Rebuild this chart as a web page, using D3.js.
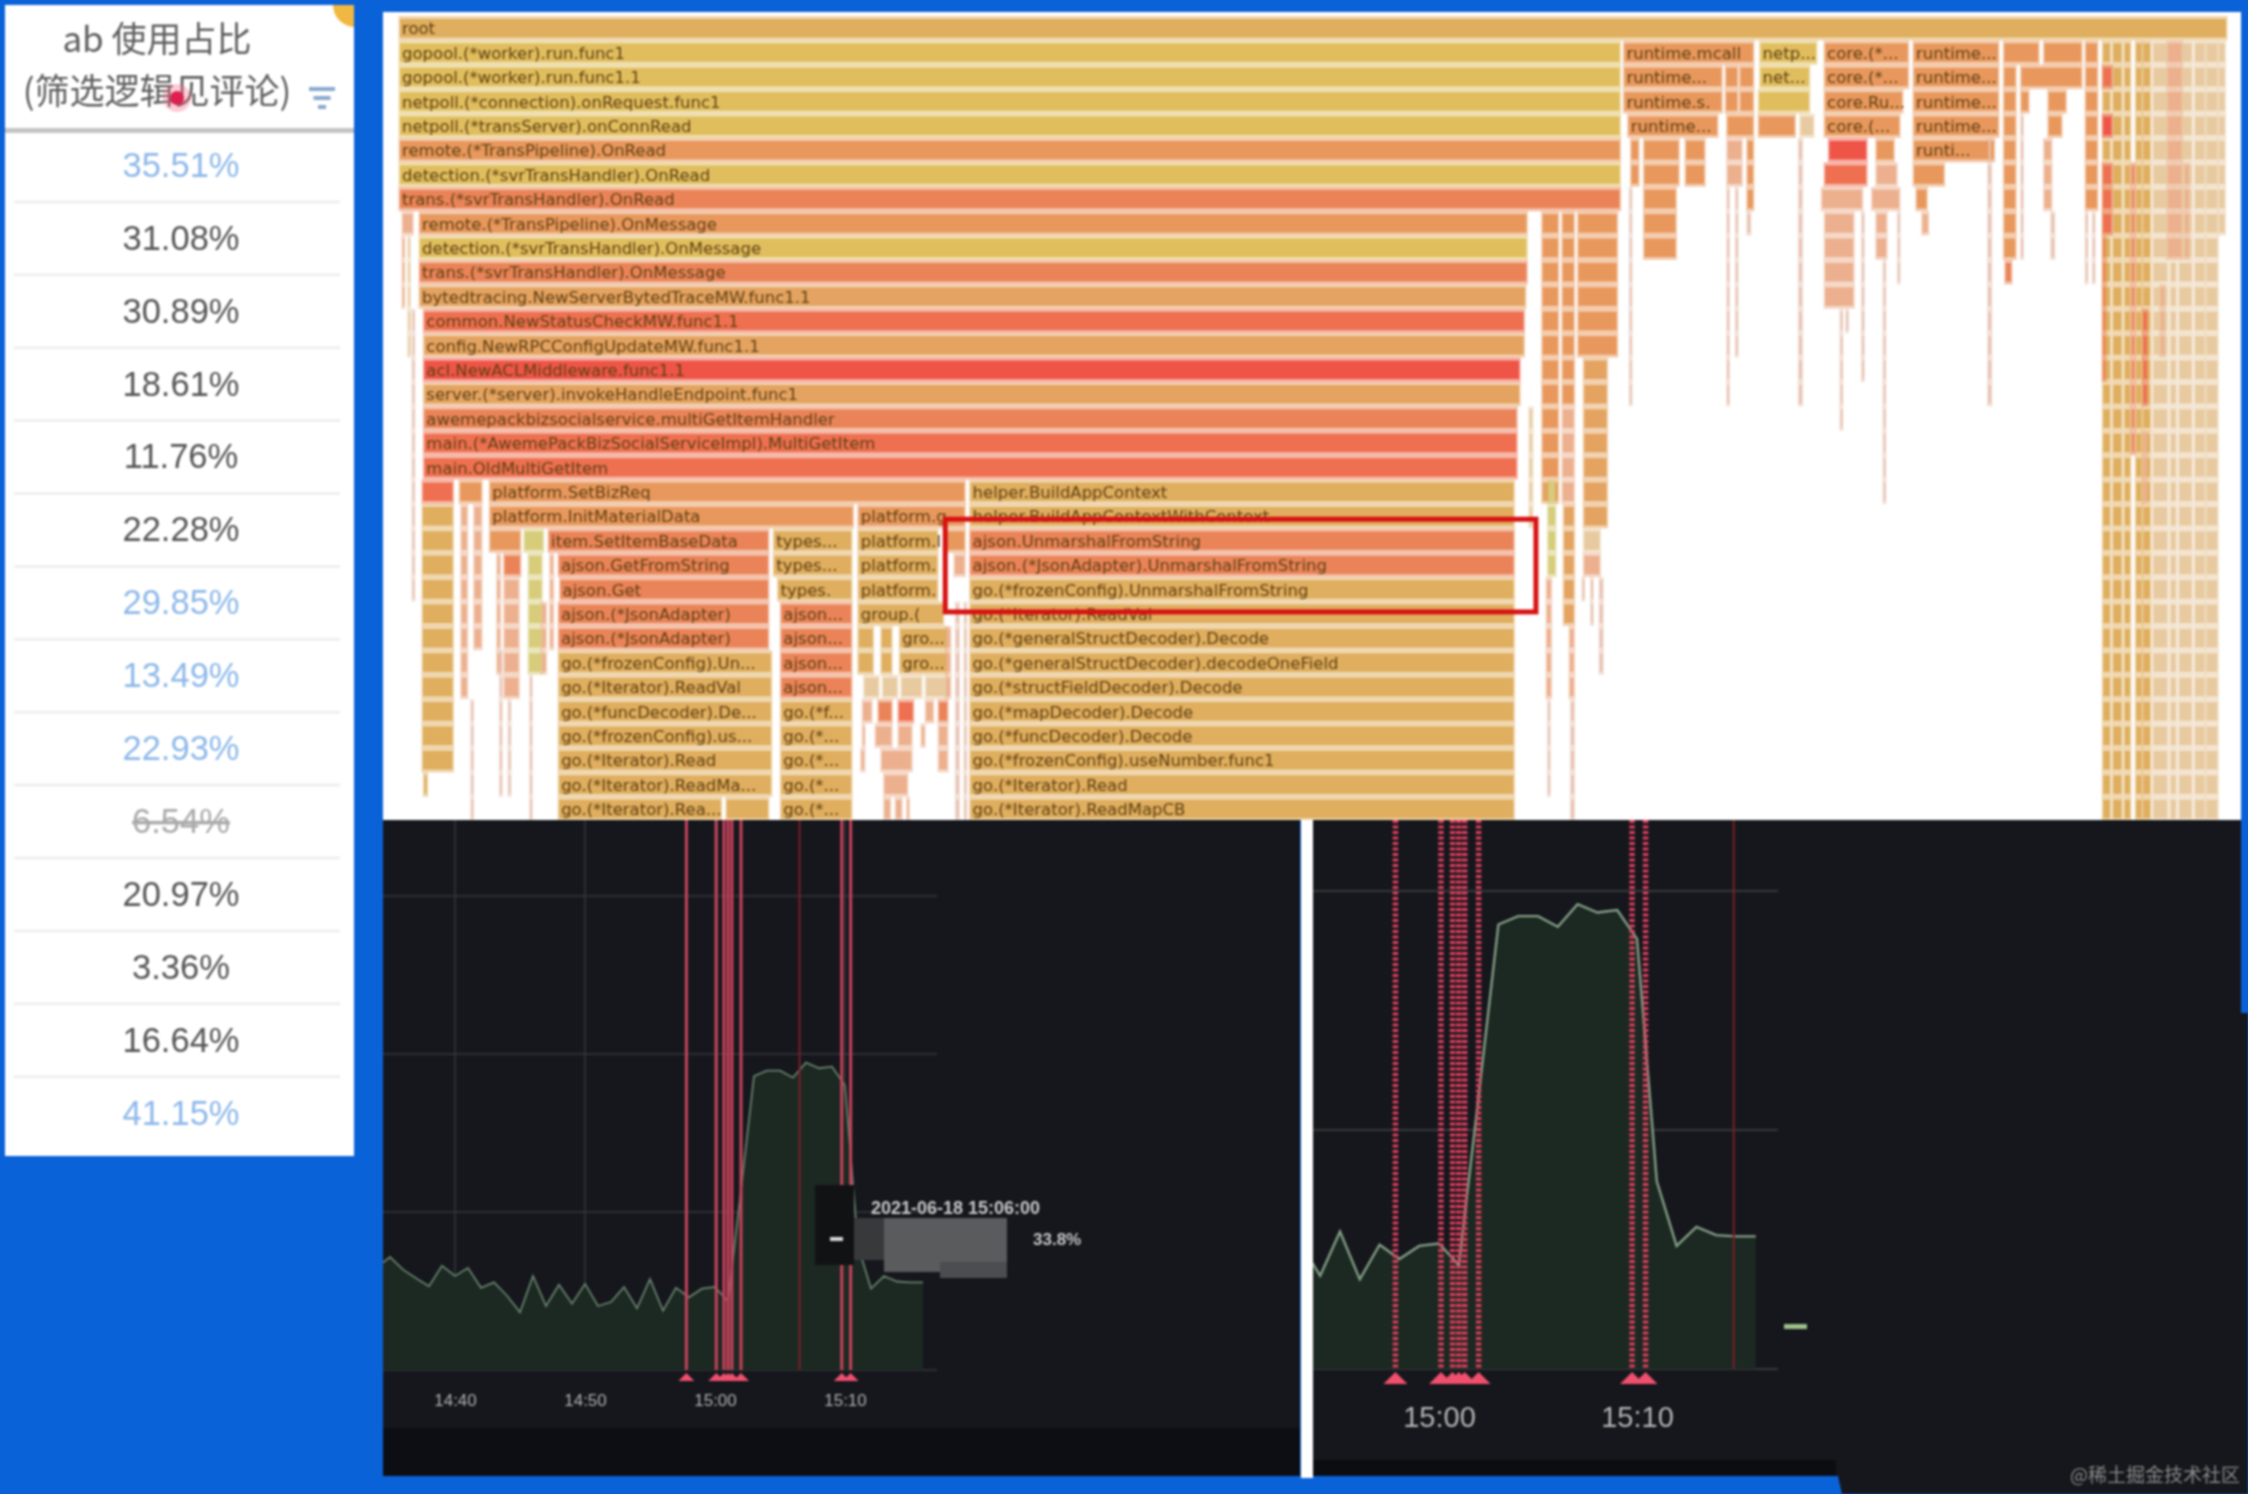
<!DOCTYPE html>
<html>
<head>
<meta charset="utf-8">
<script src="https://cdn.jsdelivr.net/npm/d3@7/dist/d3.min.js"></script>
<style>
  html, body { margin: 0; padding: 0; background: #0a62d8; overflow: hidden; }
  svg { display: block; filter: blur(0.8px); }
</style>
</head>
<body>
<script>
// ---- table on the left
const headerLines = ["ab 使用占比", "(筛选逻辑见评论)"];
const usageValues = ["35.51%", "31.08%", "30.89%", "18.61%", "11.76%", "22.28%", "29.85%",
                     "13.49%", "22.93%", "6.54%", "20.97%", "3.36%", "16.64%", "41.15%"];
const usageState = ["link", "", "", "", "", "", "link", "link", "link", "off", "", "", "", "link"];

// ---- flame graph: [depth, start sample, end sample, kind, label]
const flameKinds = ["a", "y", "g", "o", "s", "d", "r", "c", "p", "l", "t"];
const flameColors = ["#dfae5e", "#e0be5e", "#d6cc7a", "#e8985c", "#ea8458", "#ee7050", "#ef5547",
                     "#e4a360", "#ecb08e", "#e8caa0", "#e6bfae"];
const frames = [
  [0, 0, 1275, "a", "root"],
  [1, 0, 852, "y", "gopool.(*worker).run.func1"],
  [2, 0, 852, "y", "gopool.(*worker).run.func1.1"],
  [3, 0, 852, "y", "netpoll.(*connection).onRequest.func1"],
  [4, 0, 852, "y", "netpoll.(*transServer).onConnRead"],
  [5, 0, 852, "o", "remote.(*TransPipeline).OnRead"],
  [6, 0, 852, "y", "detection.(*svrTransHandler).OnRead"],
  [7, 0, 852, "s", "trans.(*svrTransHandler).OnRead"],
  [8, 14, 787, "o", "remote.(*TransPipeline).OnMessage"],
  [9, 14, 787, "y", "detection.(*svrTransHandler).OnMessage"],
  [10, 14, 787, "s", "trans.(*svrTransHandler).OnMessage"],
  [11, 14, 786, "c", "bytedtracing.NewServerBytedTraceMW.func1.1"],
  [12, 17, 785, "d", "common.NewStatusCheckMW.func1.1"],
  [13, 17, 785, "c", "config.NewRPCConfigUpdateMW.func1.1"],
  [14, 17, 782, "r", "acl.NewACLMiddleware.func1.1"],
  [15, 17, 782, "c", "server.(*server).invokeHandleEndpoint.func1"],
  [16, 17, 780, "s", "awemepackbizsocialservice.multiGetItemHandler"],
  [17, 17, 780, "d", "main.(*AwemePackBizSocialServiceImpl).MultiGetItem"],
  [18, 17, 780, "d", "main.OldMultiGetItem"],
  [19, 16, 38, "d"], [19, 42, 58, "o"],
  [19, 63, 395, "o", "platform.SetBizReq"],
  [19, 398, 778, "a", "helper.BuildAppContext"],
  [20, 63, 317, "o", "platform.InitMaterialData"],
  [20, 320, 395, "o", "platform.g"],
  [20, 398, 778, "a", "helper.BuildAppContextWithContext"],
  [21, 63, 85, "o"], [21, 87, 101, "g"],
  [21, 104, 258, "s", "item.SetItemBaseData"],
  [21, 261, 316, "a", "types..."],
  [21, 320, 376, "a", "platform.I"], [21, 380, 395, "o"],
  [21, 398, 778, "s", "ajson.UnmarshalFromString"],
  [22, 73, 85, "s"],
  [22, 111, 258, "s", "ajson.GetFromString"],
  [22, 261, 316, "a", "types..."],
  [22, 320, 376, "a", "platform."], [22, 387, 395, "p"],
  [22, 398, 778, "s", "ajson.(*JsonAdapter).UnmarshalFromString"],
  [23, 112, 258, "s", "ajson.Get"],
  [23, 264, 316, "a", "types."],
  [23, 320, 376, "a", "platform."],
  [23, 398, 778, "a", "go.(*frozenConfig).UnmarshalFromString"],
  [24, 111, 258, "s", "ajson.(*JsonAdapter)"],
  [24, 266, 316, "s", "ajson..."],
  [24, 320, 380, "a", "group.("],
  [24, 398, 778, "a", "go.(*Iterator).ReadVal"],
  [25, 111, 258, "s", "ajson.(*JsonAdapter)"],
  [25, 266, 316, "s", "ajson..."],
  [25, 320, 331, "a"], [25, 336, 344, "a"], [25, 349, 383, "a", "gro..."],
  [25, 398, 778, "a", "go.(*generalStructDecoder).Decode"],
  [26, 111, 260, "a", "go.(*frozenConfig).Un..."],
  [26, 266, 316, "s", "ajson..."],
  [26, 320, 331, "a"], [26, 336, 344, "a"], [26, 349, 383, "a", "gro..."],
  [26, 398, 778, "a", "go.(*generalStructDecoder).decodeOneField"],
  [27, 111, 260, "a", "go.(*Iterator).ReadVal"],
  [27, 266, 316, "s", "ajson..."],
  [27, 324, 335, "l"], [27, 337, 348, "l"], [27, 350, 365, "l"], [27, 367, 383, "l"],
  [27, 398, 778, "a", "go.(*structFieldDecoder).Decode"],
  [28, 111, 260, "a", "go.(*funcDecoder).De..."],
  [28, 266, 316, "a", "go.(*f..."],
  [28, 323, 330, "p"], [28, 334, 344, "s"], [28, 348, 359, "d"], [28, 367, 373, "p"], [28, 376, 383, "s"],
  [28, 398, 778, "a", "go.(*mapDecoder).Decode"],
  [29, 111, 260, "a", "go.(*frozenConfig).us..."],
  [29, 266, 316, "a", "go.(*..."],
  [29, 323, 325, "p"], [29, 332, 344, "p"], [29, 348, 358, "p"], [29, 364, 367, "p"], [29, 376, 383, "p"],
  [29, 398, 778, "a", "go.(*funcDecoder).Decode"],
  [30, 111, 260, "a", "go.(*Iterator).Read"],
  [30, 266, 316, "a", "go.(*..."],
  [30, 322, 325, "p"], [30, 336, 358, "p"], [30, 376, 383, "p"],
  [30, 398, 778, "a", "go.(*frozenConfig).useNumber.func1"],
  [31, 111, 260, "a", "go.(*Iterator).ReadMa..."],
  [31, 266, 316, "a", "go.(*..."],
  [31, 338, 355, "p"],
  [31, 398, 778, "a", "go.(*Iterator).Read"],
  [32, 111, 225, "a", "go.(*Iterator).Rea..."], [32, 228, 258, "a"],
  [32, 266, 316, "a", "go.(*..."],
  [32, 338, 343, "p"], [32, 346, 351, "p"], [32, 354, 356, "p"],
  [32, 398, 778, "a", "go.(*Iterator).ReadMapCB"],
  // right of the main stack
  [1, 854, 945, "o", "runtime.mcall"],
  [1, 949, 989, "y", "netp..."],
  [1, 994, 1053, "o", "core.(*..."],
  [1, 1056, 1116, "o", "runtime..."],
  [1, 1119, 1144, "o"], [1, 1147, 1174, "o"],
  [2, 854, 923, "o", "runtime..."],
  [2, 925, 934, "o"], [2, 935, 945, "o"],
  [2, 949, 984, "y", "net..."],
  [2, 994, 1053, "o", "core.(*..."],
  [2, 1056, 1116, "o", "runtime..."],
  [2, 1131, 1174, "o"],
  [3, 854, 923, "o", "runtime.s."],
  [3, 925, 934, "o"], [3, 935, 945, "o"],
  [3, 948, 984, "y"],
  [3, 994, 1049, "o", "core.Ru..."],
  [3, 1056, 1116, "o", "runtime..."],
  [3, 1131, 1137, "o"], [3, 1150, 1163, "o"],
  [4, 857, 920, "o", "runtime..."],
  [4, 926, 945, "o"], [4, 948, 974, "o"], [4, 977, 987, "l"],
  [4, 994, 1047, "o", "core.(..."],
  [4, 1056, 1116, "o", "runtime..."],
  [4, 1150, 1160, "o"],
  [5, 997, 1024, "r"], [5, 1030, 1043, "o"],
  [5, 1056, 1113, "o", "runti..."],
  [6, 994, 1024, "d"], [6, 1030, 1045, "p"],
  [6, 1056, 1078, "o"],
  [7, 992, 1021, "p"], [7, 1027, 1047, "p"],
  [7, 1058, 1066, "o"]
];
// towers of small unnamed frames: [first depth, last depth, start, end, kind]
const towers = [
  [8, 8, 2, 10, "p"], [9, 11, 2, 4, "p"], [9, 13, 6, 8, "l"], [12, 23, 9, 11, "t"],
  [20, 30, 16, 38, "a"], [31, 31, 17, 20, "a"], [20, 27, 43, 48, "p"], [20, 25, 52, 58, "p"],
  [28, 32, 50, 52, "t"], [22, 26, 68, 71, "p"], [23, 27, 73, 84, "p"], [26, 31, 70, 72, "t"],
  [28, 31, 76, 78, "t"], [22, 26, 90, 100, "g"], [27, 32, 91, 93, "t"], [24, 26, 99, 103, "p"],
  [22, 25, 105, 108, "p"],
  [24, 32, 388, 391, "t"], [25, 27, 381, 385, "p"], [24, 32, 394, 396, "t"],
  // columns just right of the main stack
  [8, 18, 797, 809, "o"], [19, 19, 797, 809, "c"], [19, 22, 801, 807, "g"], [23, 27, 800, 804, "p"],
  [28, 31, 801, 803, "t"], [8, 15, 811, 820, "o"], [16, 19, 811, 820, "p"], [20, 24, 812, 820, "c"],
  [25, 27, 816, 820, "p"], [28, 32, 817, 820, "t"], [8, 13, 822, 850, "o"], [14, 20, 826, 843, "c"],
  [21, 21, 826, 838, "l"], [22, 22, 826, 838, "p"], [23, 23, 825, 827, "t"], [23, 24, 831, 833, "t"],
  [23, 26, 837, 840, "t"], [16, 20, 788, 791, "l"],
  // thin stacks under runtime and core
  [5, 6, 859, 865, "o"], [5, 6, 868, 893, "o"], [7, 9, 868, 891, "o"], [5, 6, 897, 911, "o"],
  [7, 15, 858, 860, "t"], [5, 6, 926, 937, "p"], [7, 15, 926, 928, "t"], [7, 13, 932, 934, "t"],
  [5, 7, 940, 945, "o"], [8, 8, 940, 943, "t"], [5, 15, 976, 979, "t"], [8, 11, 994, 1015, "p"],
  [12, 16, 1005, 1007, "t"], [12, 12, 1009, 1011, "t"], [8, 14, 1020, 1022, "t"], [8, 9, 1030, 1038, "p"],
  [10, 19, 1035, 1037, "t"], [8, 10, 1045, 1047, "t"], [8, 8, 1062, 1067, "p"], [5, 15, 1108, 1111, "t"],
  [2, 9, 1119, 1128, "o"], [10, 10, 1120, 1125, "s"], [4, 9, 1131, 1133, "t"], [5, 7, 1147, 1153, "p"],
  [8, 9, 1152, 1155, "t"], [1, 7, 1176, 1185, "o"], [8, 10, 1176, 1178, "t"], [8, 10, 1181, 1183, "t"],
  // tall block on the far right
  [1, 32, 1188, 1194, "a"], [1, 32, 1195, 1202, "a"], [1, 32, 1203, 1208, "a"], [1, 32, 1211, 1216, "a"],
  [1, 32, 1216, 1222, "a"], [1, 32, 1223, 1234, "l"], [1, 32, 1235, 1240, "l"], [1, 32, 1241, 1251, "l"],
  [1, 32, 1252, 1260, "l"], [1, 32, 1260, 1269, "l"], [1, 8, 1269, 1274, "l"],
  [2, 2, 1188, 1195, "d"], [4, 4, 1188, 1195, "r"], [6, 8, 1188, 1195, "d"], [9, 14, 1188, 1191, "s"],
  [6, 17, 1208, 1211, "s"], [12, 15, 1216, 1220, "d"], [1, 9, 1233, 1244, "p"], [6, 9, 1245, 1249, "p"],
  [11, 13, 1228, 1232, "p"], [17, 19, 1216, 1220, "p"]
];

// ---- time series shared by both lower charts (minutes after 14:40, percent)
const minutes = [-6, -5, -4, -3, -2, -1, 0, 1, 2, 3, 4, 5, 6, 7, 8, 9, 10, 11, 12, 13, 14, 15, 16, 17, 18,
                 19, 20, 21, 22, 23, 24, 25, 26, 27, 28, 29, 30, 31, 32, 33, 34, 35, 36];
const percent = [13.0, 14.3, 12.7, 11.6, 10.6, 13.2, 11.9, 12.9, 10.4, 11.1, 9.4, 7.3, 11.9, 8.1, 10.8,
                 8.4, 10.9, 8.1, 8.6, 10.5, 7.8, 11.5, 7.5, 10.4, 9.2, 10.3, 10.5, 8.7, 22.8, 37.2,
                 37.9, 37.9, 37.0, 38.9, 38.2, 38.4, 36.0, 15.7, 10.3, 11.9, 11.2, 11.1, 11.1];
const gridValues = [0, 20, 40, 60];
const sharedEvents = [17.8, 20.1, 20.7, 21.0, 21.3, 22, 29.75, 30.45];
const tooltipTitle = "2021-06-18 15:06:00";
const tooltipValue = "33.8%";

const width = 2248;
const height = 1494;
const svg = d3.select("body").append("svg").attr("width", width).attr("height", height);
const defs = svg.append("defs");
const sansFont = "'Liberation Sans', Arial, sans-serif";
const cjkFont = "'Noto Sans CJK SC', sans-serif";

// background panels
svg.append("rect").attr("width", width).attr("height", height).attr("fill", "#0a62d8");
svg.append("rect").attr("x", 383).attr("y", 12).attr("width", 1858).attr("height", 808).attr("fill", "#fff");
svg.append("rect").attr("x", 383).attr("y", 820).attr("width", 917).attr("height", 656).attr("fill", "#15171c");
svg.append("rect").attr("x", 383).attr("y", 1428).attr("width", 917).attr("height", 48).attr("fill", "#0c0e13");
svg.append("path").attr("d", "M1313,820H2248V1494H1842L1838,1476H1313Z").attr("fill", "#15171c");
svg.append("rect").attr("x", 1313).attr("y", 1460).attr("width", 523).attr("height", 16).attr("fill", "#0b0d11");
svg.append("rect").attr("x", 2241).attr("y", 0).attr("width", 7).attr("height", 1013).attr("fill", "#0a62d8");
svg.append("rect").attr("x", 1301).attr("y", 820).attr("width", 12).attr("height", 658).attr("fill", "#fff");

// ---- table
const table = svg.append("g");
table.append("rect").attr("x", 5).attr("y", 5).attr("width", 349).attr("height", 1151).attr("fill", "#fff");
defs.append("clipPath").attr("id", "tableClip").append("rect")
    .attr("x", 5).attr("y", 5).attr("width", 349).attr("height", 1151);
table.append("circle").attr("cx", 355).attr("cy", 5).attr("r", 22).attr("fill", "#f0b840")
     .attr("clip-path", "url(#tableClip)");
table.selectAll(".head").data(headerLines).enter().append("text")
     .attr("class", "head")
     .attr("x", 157)
     .attr("y", (d, i) => 39 + 52 * i)
     .attr("dy", "0.36em")
     .attr("text-anchor", "middle")
     .attr("font-family", cjkFont)
     .attr("font-size", 35)
     .attr("fill", "#5e5e5e")
     .text(d => d);
table.append("rect").attr("x", 5).attr("y", 128).attr("width", 349).attr("height", 5).attr("fill", "#c4c4c4");
table.selectAll(".filterBar").data([26, 17, 8]).enter().append("rect")
     .attr("class", "filterBar")
     .attr("x", d => 322 - d / 2)
     .attr("y", (d, i) => 87 + i * 9)
     .attr("width", d => d)
     .attr("height", 4)
     .attr("fill", "#8aa8d0");
table.append("circle").attr("cx", 177).attr("cy", 98).attr("r", 14).attr("fill", "#ff6a88").attr("opacity", 0.35);
table.append("circle").attr("cx", 177).attr("cy", 98).attr("r", 7).attr("fill", "#dd2050");

const rowScale = d3.scaleBand().domain(d3.range(usageValues.length)).range([128, 128 + 72.9 * usageValues.length]);
table.selectAll(".rowLine").data(usageValues.slice(0, -1)).enter().append("line")
     .attr("class", "rowLine")
     .attr("x1", 14).attr("x2", 340)
     .attr("y1", (d, i) => rowScale(i) + rowScale.bandwidth() + 1)
     .attr("y2", (d, i) => rowScale(i) + rowScale.bandwidth() + 1)
     .attr("stroke", "#efefef").attr("stroke-width", 3);
table.selectAll(".rowValue").data(usageValues).enter().append("text")
     .attr("class", "rowValue")
     .attr("x", 181)
     .attr("y", (d, i) => rowScale(i) + rowScale.bandwidth() / 2)
     .attr("dy", "0.36em")
     .attr("text-anchor", "middle")
     .attr("font-family", sansFont)
     .attr("font-size", 34.5)
     .attr("fill", (d, i) => usageState[i] === "link" ? "#8db8ea" : usageState[i] === "off" ? "#aaaaaa" : "#555555")
     .style("text-decoration", (d, i) => usageState[i] === "off" ? "line-through" : null)
     .text(d => d);

// ---- flame graph
const flameX = d3.scaleLinear().domain([0, 1275]).range([399, 2227]);
const flameY = d3.scaleLinear().domain([0, 33]).range([19, 19 + 24.4 * 33]);
const flameColor = d3.scaleOrdinal().domain(flameKinds).range(flameColors);
const allFrames = frames.map(f => ({ depth: f[0], start: f[1], end: f[2], kind: f[3], label: f[4] }));
towers.forEach(t => {
  d3.range(t[0], t[1] + 1).forEach(depth => {
    allFrames.push({ depth: depth, start: t[2], end: t[3], kind: t[4] });
  });
});

defs.append("clipPath").attr("id", "flameClip").append("rect")
    .attr("x", 383).attr("y", 12).attr("width", 1858).attr("height", 808);
const flame = svg.append("g").attr("clip-path", "url(#flameClip)");
// lighter halo around each frame, then the frame itself
flame.selectAll(".halo").data(allFrames).enter().append("rect")
     .attr("class", "halo")
     .attr("x", d => flameX(d.start) - 0.5)
     .attr("y", d => flameY(d.depth) - 3)
     .attr("width", d => flameX(d.end) - flameX(d.start) + 1)
     .attr("height", 24.4)
     .attr("fill", d => flameColor(d.kind))
     .attr("opacity", 0.5);
flame.selectAll(".frame").data(allFrames).enter().append("rect")
     .attr("class", "frame")
     .attr("x", d => flameX(d.start) + 1)
     .attr("y", d => flameY(d.depth))
     .attr("width", d => Math.max(1.5, flameX(d.end) - flameX(d.start) - 2))
     .attr("height", 18.4)
     .attr("fill", d => flameColor(d.kind));
flame.selectAll(".frameLabel").data(allFrames.filter(d => d.label)).enter().append("text")
     .attr("class", "frameLabel")
     .attr("x", d => flameX(d.start) + 3)
     .attr("y", d => flameY(d.depth) + 9.5)
     .attr("dy", "0.36em")
     .attr("font-family", "'DejaVu Sans', sans-serif")
     .attr("font-size", 16.5)
     .attr("fill", "#5f3f12")
     .text(d => d.label);
// red marker around the three UnmarshalFromString rows
flame.append("rect")
     .attr("x", flameX(381))
     .attr("y", flameY(20.5))
     .attr("width", flameX(793) - flameX(381))
     .attr("height", flameY(24.3) - flameY(20.5))
     .attr("fill", "none")
     .attr("stroke", "#d81212")
     .attr("stroke-width", 5);

// ---- lower charts
function drawChart(opts) {
  const x = d3.scaleTime()
    .domain([new Date(2021, 5, 18, 14, 40), new Date(2021, 5, 18, 15, 10)])
    .range(opts.xRange);
  const y = d3.scaleLinear().domain([0, 40]).range(opts.yRange);
  const at = m => new Date(2021, 5, 18, 14, 40 + Math.floor(m), (m - Math.floor(m)) * 60);
  const id = "clip" + opts.name;
  defs.append("clipPath").attr("id", id).append("rect")
      .attr("x", opts.left).attr("y", 820).attr("width", opts.gridEnd + 30 - opts.left).attr("height", 640);
  const g = svg.append("g").attr("clip-path", "url(#" + id + ")");

  g.selectAll(".hGrid").data(opts.grid).enter().append("line")
   .attr("x1", opts.left).attr("x2", opts.gridEnd)
   .attr("y1", d => y(d)).attr("y2", d => y(d))
   .attr("stroke", "#36373b").attr("stroke-width", opts.gridWidth);
  g.selectAll(".vGrid").data(opts.vGrid).enter().append("line")
   .attr("x1", d => x(at(d))).attr("x2", d => x(at(d)))
   .attr("y1", 820).attr("y2", y(0))
   .attr("stroke", "#36373b").attr("stroke-width", 1.5);

  const points = minutes.map((m, i) => ({ t: at(m), v: percent[i] })).slice(opts.firstPoint);
  g.append("path").datum(points)
   .attr("fill", "#1c2822")
   .attr("d", d3.area().x(d => x(d.t)).y0(y(0)).y1(d => y(d.v)));
  g.append("path").datum(points)
   .attr("fill", "none")
   .attr("stroke", opts.lineColor)
   .attr("stroke-width", opts.lineWidth)
   .attr("d", d3.line().x(d => x(d.t)).y(d => y(d.v)));

  g.selectAll(".event").data(sharedEvents).enter().append("line")
   .attr("x1", d => x(at(d))).attr("x2", d => x(at(d)))
   .attr("y1", 820).attr("y2", y(0))
   .attr("stroke", opts.eventColor)
   .attr("stroke-width", opts.eventWidth)
   .attr("stroke-dasharray", opts.eventDash);
  g.selectAll(".extra").data(opts.extraEvents).enter().append("line")
   .attr("x1", d => x(at(d))).attr("x2", d => x(at(d)))
   .attr("y1", 820).attr("y2", y(0))
   .attr("stroke", "#7a1f28").attr("stroke-width", 2);
  g.selectAll(".flag").data(sharedEvents).enter().append("path")
   .attr("d", d => {
     const px = x(at(d));
     return "M" + (px - opts.flag) + "," + (y(0) + opts.flag + 3) + "L" + px + "," + (y(0) + 3)
          + "L" + (px + opts.flag) + "," + (y(0) + opts.flag + 3) + "Z";
   })
   .attr("fill", "#f0506e");

  const axis = d3.axisBottom(x)
    .tickValues(opts.ticks.map(at))
    .tickFormat(d3.timeFormat("%H:%M"))
    .tickSize(0);
  const axisG = svg.append("g").attr("transform", "translate(0," + opts.axisY + ")").call(axis);
  axisG.select(".domain").remove();
  axisG.selectAll("text")
       .attr("font-family", sansFont)
       .attr("font-size", opts.tickFont)
       .attr("fill", opts.tickColor);
}

drawChart({
  name: "Left", left: 383, gridEnd: 937, firstPoint: 0,
  xRange: [455, 845], yRange: [1370, 1054], grid: gridValues, gridWidth: 1.5,
  vGrid: [0, 10, 20, 30], extraEvents: [26.5], ticks: [0, 10, 20, 30],
  lineColor: "#67806c", lineWidth: 1.8,
  eventColor: "#c8435c", eventWidth: 3, eventDash: null, flag: 8,
  axisY: 1391, tickFont: 17, tickColor: "#b0b0b0"
});
drawChart({
  name: "Right", left: 1313, gridEnd: 1778, firstPoint: 19,
  xRange: [1043, 1637], yRange: [1369, 891], grid: gridValues.slice(0, 3), gridWidth: 2,
  vGrid: [], extraEvents: [34.9], ticks: [20, 30],
  lineColor: "#849e86", lineWidth: 2.4,
  eventColor: "#e0405f", eventWidth: 5.5, eventDash: "3 2.5", flag: 12,
  axisY: 1403, tickFont: 29, tickColor: "#b4b4b4"
});

// ---- tooltip on the left chart
svg.append("rect").attr("x", 815).attr("y", 1185).attr("width", 39).attr("height", 80).attr("fill", "#111214");
svg.append("rect").attr("x", 854).attr("y", 1218).attr("width", 30).attr("height", 42).attr("fill", "#37393b");
svg.append("rect").attr("x", 884).attr("y", 1218).attr("width", 123).attr("height", 54).attr("fill", "#5a5b5d");
svg.append("rect").attr("x", 940).attr("y", 1262).attr("width", 67).attr("height", 16).attr("fill", "#4c4d4f");
svg.append("rect").attr("x", 830).attr("y", 1237).attr("width", 13).attr("height", 4).attr("fill", "#d8d8d8");
svg.append("text").attr("x", 871).attr("y", 1208).attr("dy", "0.36em")
   .attr("font-family", sansFont).attr("font-size", 18).attr("font-weight", "bold").attr("fill", "#c8c8c8")
   .text(tooltipTitle);
svg.append("text").attr("x", 1033).attr("y", 1239).attr("dy", "0.36em")
   .attr("font-family", sansFont).attr("font-size", 17).attr("font-weight", "bold").attr("fill", "#c8c8c8")
   .text(tooltipValue);

// legend dash and watermark
svg.append("rect").attr("x", 1784).attr("y", 1324).attr("width", 23).attr("height", 5).attr("fill", "#9dc08b");
svg.append("text").attr("x", 2240).attr("y", 1475).attr("dy", "0.36em")
   .attr("text-anchor", "end")
   .attr("font-family", cjkFont).attr("font-size", 19).attr("fill", "#8a8a8a")
   .text("@稀土掘金技术社区");
</script>
</body>
</html>
